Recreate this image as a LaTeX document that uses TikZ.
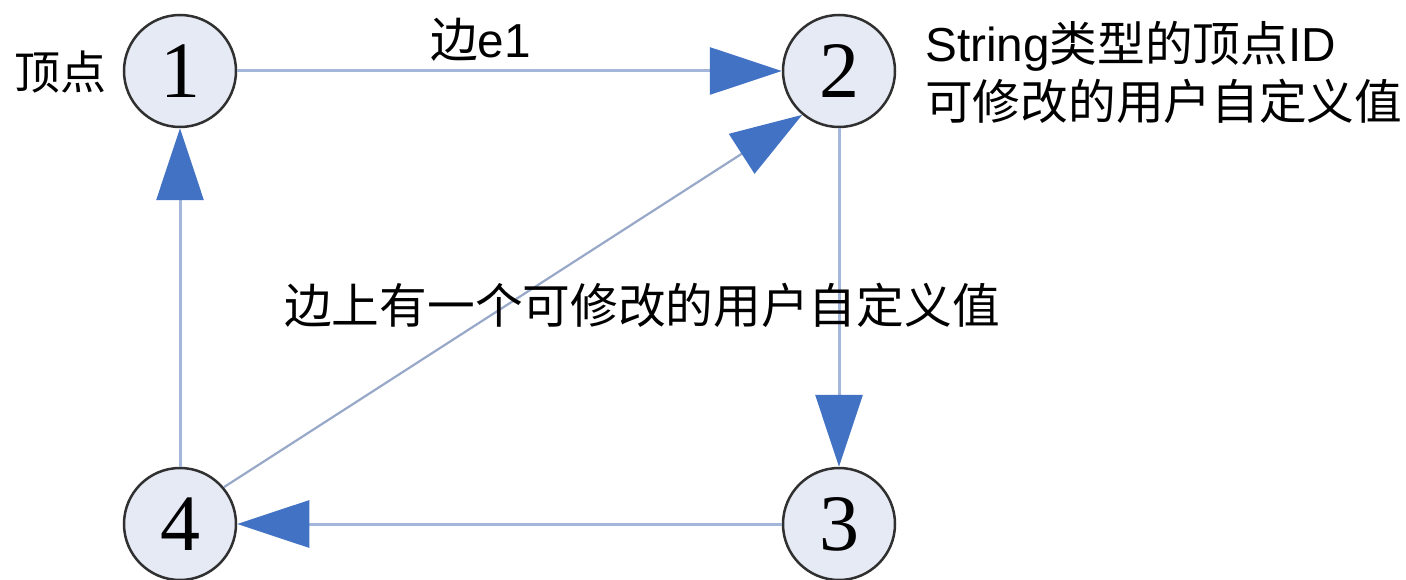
\documentclass[tikz,border=0pt]{standalone}
\usepackage{fontspec}
\setmainfont{Liberation Sans}
\newfontfamily\cjk{Noto Sans CJK SC}
\newfontfamily\numfont{Liberation Serif}
\usetikzlibrary{arrows.meta}
\definecolor{linecol}{HTML}{A4B6DA}
\definecolor{diagcol}{HTML}{98A8C8}
\definecolor{arrowcol}{HTML}{4272C4}
\definecolor{vfill}{HTML}{E6EAF5}
\definecolor{vdraw}{HTML}{303030}
\tikzset{
  vertex/.style={circle, draw=vdraw, line width=2.5pt, fill=vfill, minimum size=112pt, inner sep=0pt,
    font=\numfont\fontsize{80}{80}\selectfont},
  edge/.style={draw=linecol, line width=3pt,
    -{Triangle[length=72pt,width=47pt,color=arrowcol]}},
  lbl/.style={inner sep=0pt, anchor=west, font=\fontsize{47.7}{52}\selectfont}
}
\begin{document}
\begin{tikzpicture}[x=1pt,y=-1pt]
\useasboundingbox (0,0) rectangle (1406,580);
\node[vertex] (n1) at (180,71) {1};
\node[vertex] (n2) at (839,71) {2};
\node[vertex] (n3) at (839,524) {3};
\node[vertex] (n4) at (180,524) {4};
\draw[edge] (n1) -- (n2);
\draw[edge] (n2) -- (n3);
\draw[edge] (n3) -- (n4);
\draw[edge] (n4) -- (n1);
\draw[edge, draw=diagcol, line width=2.2pt] (n4.40) -- (n2.230);
\node[lbl, font=\fontsize{46}{52}\selectfont] (tv) at (14,72) {\cjk 顶点};
\node[lbl] (te) at (430,40) {{\cjk 边}e1};
\node[lbl] (tid) at (925,46) {String{\cjk 类型的顶点}ID};
\node[lbl] (tval) at (925,101) {\cjk 可修改的用户自定义值};
\node[lbl] (tedge) at (284,305) {\cjk 边上有一个可修改的用户自定义值};
\end{tikzpicture}
\end{document}
